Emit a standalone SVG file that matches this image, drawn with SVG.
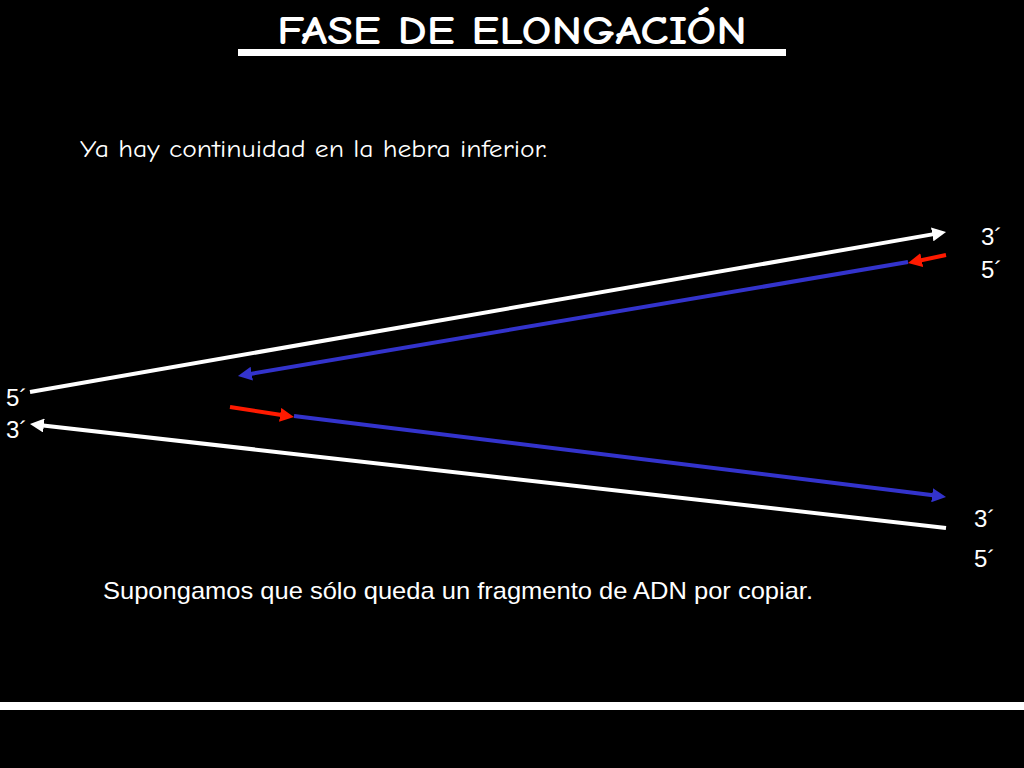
<svg xmlns="http://www.w3.org/2000/svg" width="1024" height="768" viewBox="0 0 1024 768">
<style>
.comic{font-family:"Comic Sans MS","Comic Neue","DejaVu Sans",sans-serif;fill:#fff}
.lab{font-family:"Liberation Sans",Arial,sans-serif;font-size:24px;fill:#fff}
.w{stroke:#fff;stroke-width:4;fill:none}
.b{stroke:#3333cc;stroke-width:4;fill:none}
.r{stroke:#ff1a00;stroke-width:4;fill:none}
</style>
<defs>
<marker id="aw" markerUnits="userSpaceOnUse" markerWidth="16" markerHeight="14" refX="3" refY="7" orient="auto"><path d="M0,0 L14,7 L0,14 z" fill="#fff"/></marker>
<marker id="ab" markerUnits="userSpaceOnUse" markerWidth="16" markerHeight="14" refX="3" refY="7" orient="auto"><path d="M0,0 L14,7 L0,14 z" fill="#3333cc"/></marker>
<marker id="ar" markerUnits="userSpaceOnUse" markerWidth="16" markerHeight="14" refX="3" refY="7" orient="auto"><path d="M0,0 L14,7 L0,14 z" fill="#ff1a00"/></marker>
</defs>
<rect width="1024" height="768" fill="#000"/>
<g id="title">
<text x="277" y="44" class="comic" font-size="40" font-weight="bold" textLength="470" lengthAdjust="spacingAndGlyphs">FASE DE ELONGACIÓN</text>
<rect x="238" y="49" width="548" height="7" fill="#fff"/>
</g>
<g id="bottom-bar"><rect x="0" y="702" width="1024" height="8" fill="#fff"/></g>
<g id="caption-top"><text x="80" y="157" class="comic" font-size="24" textLength="467" lengthAdjust="spacingAndGlyphs">Ya hay continuidad en la hebra inferior.</text></g>
<g id="caption-bottom"><text x="103" y="599" font-family="'Liberation Sans',Arial,sans-serif" font-size="24" fill="#fff" textLength="710" lengthAdjust="spacingAndGlyphs">Supongamos que sólo queda un fragmento de ADN por copiar.</text></g>
<g id="connectors">
<line class="w" x1="30" y1="392" x2="935.2" y2="233.9" marker-end="url(#aw)"/>
<line class="b" x1="908" y1="262" x2="248.8" y2="374.2" marker-end="url(#ab)"/>
<line class="r" x1="946" y1="255" x2="918.8" y2="260.7" marker-end="url(#ar)"/>
<line class="r" x1="230" y1="407" x2="283.1" y2="415.3" marker-end="url(#ar)"/>
<line class="b" x1="294" y1="416" x2="935.1" y2="495.6" marker-end="url(#ab)"/>
<line class="w" x1="946" y1="528" x2="40.9" y2="425.2" marker-end="url(#aw)"/>
</g>
<g id="labels">
<text x="981" y="245" class="lab">3´</text>
<text x="981" y="278" class="lab">5´</text>
<text x="6" y="406" class="lab">5´</text>
<text x="6" y="438" class="lab">3´</text>
<text x="974" y="527" class="lab">3´</text>
<text x="974" y="567" class="lab">5´</text>
</g>
</svg>
